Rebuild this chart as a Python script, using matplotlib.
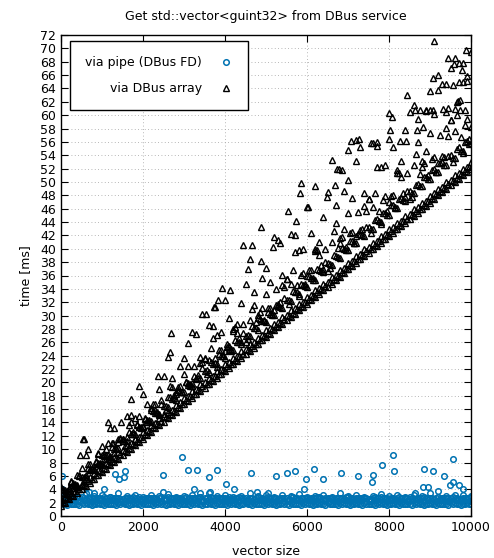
import matplotlib
matplotlib.use("Agg")
import matplotlib.pyplot as plt
import numpy as np

# vector sizes used by the dense rows
x_even = np.arange(0, 10001, 100)
x_odd = np.arange(50, 10000, 100)
x_200 = np.arange(0, 10001, 200)
x_200b = np.arange(100, 10000, 200)

# via DBus array [ms], lower edge and band above it
arr_a = [1.5, 2.0, 2.5, 3.0, 3.5, 4.0, 4.5, 5.0, 5.5, 6.1, 6.6, 7.1, 7.6, 8.1, 8.6, 9.1, 9.6, 10.1, 10.6, 11.1,
         11.6, 12.1, 12.6, 13.1, 13.6, 14.1, 14.6, 15.1, 15.6, 16.2, 16.7, 17.2, 17.7, 18.2, 18.7, 19.2, 19.7, 20.2, 20.7, 21.2,
         21.7, 22.2, 22.7, 23.2, 23.7, 24.2, 24.7, 25.2, 25.7, 26.3, 26.8, 27.3, 27.8, 28.3, 28.8, 29.3, 29.8, 30.3, 30.8, 31.3,
         31.8, 32.3, 32.8, 33.3, 33.8, 34.3, 34.8, 35.3, 35.8, 36.3, 36.9, 37.4, 37.9, 38.4, 38.9, 39.4, 39.9, 40.4, 40.9, 41.4,
         41.9, 42.4, 42.9, 43.4, 43.9, 44.4, 44.9, 45.4, 45.9, 46.4, 46.9, 47.5, 48.0, 48.5, 49.0, 49.5, 50.0, 50.5, 51.0, 51.5, 52.0]
arr_b = [2.1, 2.7, 3.1, 3.7, 4.1, 4.7, 5.2, 5.6, 6.2, 6.7, 7.2, 7.8, 8.2, 8.7, 9.3, 9.7, 10.2, 10.8, 11.2, 11.8,
         12.3, 12.7, 13.3, 13.8, 14.2, 14.8, 15.3, 15.7, 16.3, 16.8, 17.3, 17.9, 18.3, 18.8, 19.4, 19.8, 20.3, 20.9, 21.3, 21.9,
         22.4, 22.8, 23.4, 23.9, 24.3, 24.9, 25.4, 25.8, 26.4, 26.9, 27.4, 28.0, 28.4, 28.9, 29.5, 29.9, 30.4, 31.0, 31.4, 32.0,
         32.5, 32.9, 33.5, 34.0, 34.4, 35.0, 35.5, 35.9, 36.5, 37.0, 37.5, 38.1, 38.5, 39.0, 39.6, 40.0, 40.5, 41.1, 41.5, 42.1,
         42.6, 43.0, 43.6, 44.1, 44.5, 45.1, 45.6, 46.0, 46.6, 47.1, 47.6, 48.2, 48.6, 49.1, 49.7, 50.1, 50.6, 51.2, 51.6, 52.2]
arr_g = [2.4, 2.9, 3.5, 3.8, 4.5, 4.8, 5.5, 5.8, 6.5, 6.9, 7.6, 7.9, 8.6, 8.9, 9.6, 9.9, 10.6, 10.9, 11.6, 11.9,
         12.6, 12.9, 13.6, 13.9, 14.6, 14.9, 15.6, 15.9, 16.6, 17.0, 17.7, 18.0, 18.7, 19.0, 19.7, 20.0, 20.7, 21.0, 21.7, 22.0,
         22.7, 23.0, 23.7, 24.0, 24.7, 25.0, 25.7, 26.0, 26.7, 27.1, 27.8, 28.1, 28.8, 29.1, 29.8, 30.1, 30.8, 31.1, 31.8, 32.1,
         32.8, 33.1, 33.8, 34.1, 34.8, 35.1, 35.8, 36.1, 36.8, 37.1, 37.9, 38.2, 38.9, 39.2, 39.9, 40.2, 40.9, 41.2, 41.9, 42.2,
         42.9, 43.2, 43.9, 44.2, 44.9, 45.2, 45.9, 46.2, 46.9, 47.2, 47.9, 48.3, 49.0, 49.3, 50.0, 50.3, 51.0, 51.3, 52.0, 52.3, 53.0]
arr_c = [2.5, 3.4, 3.8, 4.9, 4.7, 5.8, 5.9, 6.9, 6.9, 8.0, 8.0, 9.1, 9.0, 10.0, 10.2, 11.2, 11.2, 12.3, 12.2, 13.3,
         13.3, 14.3, 14.2, 15.4, 15.3, 16.5, 16.3, 17.5, 17.4, 18.5, 18.5, 19.6, 19.5, 20.7, 20.6, 21.7, 21.6, 22.8, 22.7, 23.9,
         23.7, 24.9, 24.8, 26.0, 25.8, 27.0, 26.9, 28.1, 27.9, 29.2, 29.0, 30.3, 30.1, 31.4, 31.1, 32.4, 32.2, 33.5, 33.3, 34.6,
         34.3, 35.7, 35.4, 36.8, 36.5, 37.8, 37.6, 38.9, 38.6, 40.0, 39.8, 41.1, 40.8, 42.2, 41.9, 43.2, 42.9, 44.4, 44.0, 45.4,
         45.1, 46.5, 46.1, 47.6, 47.2, 48.7, 48.3, 49.7, 49.4, 50.8, 50.4, 51.9, 51.5, 53.0, 52.6, 54.1, 53.6, 55.2, 54.7, 56.2, 55.8]
arr_h = [4.0, 3.8, 5.1, 4.8, 6.2, 5.9, 7.2, 7.0, 8.3, 8.0, 9.3, 9.1, 10.4, 10.1, 11.5, 11.2, 12.5, 12.3, 13.6, 13.3,
         14.6, 14.4, 15.7, 15.4, 16.8, 16.5, 17.8, 17.6, 18.9, 18.6, 20.0, 19.7, 21.0, 20.7, 22.1, 21.8, 23.1, 22.9, 24.2, 23.9,
         25.3, 25.0, 26.3, 26.0, 27.4, 27.1, 28.4, 28.2, 29.5, 29.2, 30.6, 30.3, 31.6, 31.3, 32.7, 32.4, 33.7, 33.5, 34.8, 34.5,
         35.9, 35.6, 36.9, 36.6, 38.0, 37.7, 39.0, 38.8, 40.1, 39.8, 41.2, 40.9, 42.2, 42.0, 43.3, 43.0, 44.3, 44.1, 45.4, 45.1,
         46.5, 46.2, 47.5, 47.3, 48.6, 48.3, 49.6, 49.4, 50.7, 50.4, 51.8, 51.5, 52.8, 52.6, 53.9, 53.6, 54.9, 54.7, 56.0, 55.7]
arr_d = [3.4, 3.3, 5.3, 4.7, 6.0, 5.2, 7.8, 7.1, 8.1, 7.8, 9.0, 8.6, 11.0, 10.2, 11.7, 10.5, 13.6, 12.6, 13.7, 13.2,
         14.5, 14.0, 16.8, 15.6, 17.3, 15.8, 19.4, 18.1, 19.3, 18.6, 20.1, 19.4, 22.5, 21.1, 23.0, 21.2, 25.2, 23.6, 24.9, 24.0,
         25.7, 24.7, 28.3, 26.6, 28.7, 26.5, 31.0, 29.1, 30.5, 29.4, 31.2, 30.1, 34.0, 32.0, 34.3, 31.8, 36.8, 34.6, 36.1, 34.8,
         36.8, 35.4, 39.8, 37.5, 40.0, 37.1, 42.6, 40.1, 41.7, 40.2, 42.3, 40.8, 45.5, 42.9, 45.6, 42.4, 48.4, 45.6, 47.3, 45.6,
         47.9, 46.1, 51.3, 48.4, 51.3, 47.7, 54.2, 51.2, 52.9, 51.0, 53.4, 51.5, 57.1, 53.8, 56.9, 53.0, 60.0, 56.7, 58.5, 56.4]
arr_e = [3.9, 4.2, 7.2, 7.1, 9.3, 8.6, 13.2, 11.6, 15.1, 15.0, 16.7, 15.8, 21.0, 19.3, 22.4, 19.9, 27.3, 23.6, 28.5, 27.5,
         29.6, 27.4, 34.7, 31.6, 35.6, 31.2, 41.3, 35.5, 42.0, 40.0, 42.4, 39.1, 48.5, 43.8, 48.7, 42.5, 55.3, 47.4, 55.4, 52.5,
         55.2, 50.7, 60.5, 56.0, 60.8, 53.8, 64.6, 59.3, 67.8, 65.1]
arr_i = [2.8, 4.6, 4.5, 7.8, 7.8, 10.0, 9.4, 11.6, 14.0, 13.3, 14.1, 16.7, 15.2, 20.7, 19.5, 22.5, 20.5, 23.5, 26.7, 24.8,
         25.4, 28.8, 26.0, 33.6, 31.2, 35.1, 31.7, 35.5, 39.5, 36.4, 36.8, 41.0, 36.7, 46.6, 43.0, 47.6, 42.8, 47.4, 52.2, 47.9,
         48.1, 53.1, 47.4, 59.5, 54.6, 60.1, 53.9, 59.3, 64.9, 59.4]
arr_f = [2.4, 4.2, 4.3, 6.2, 7.0, 9.2, 8.9, 11.1, 11.8, 11.6, 13.5, 16.1, 15.1, 17.8, 18.3, 21.3, 19.9, 22.9, 23.3, 22.3,
         24.7, 28.0, 26.0, 29.4, 29.6, 33.3, 30.9, 34.6, 34.8, 33.0, 35.9, 39.9, 36.9, 41.0, 40.9, 45.4, 41.9, 46.4, 46.2, 43.7,
         47.0, 51.8, 47.7, 52.6, 52.2, 57.4, 52.9, 58.1, 57.7, 54.4, 58.2]
arr_k = [4.3, 4.0, 6.1, 9.2, 7.1, 10.5, 13.2, 11.6, 15.0, 14.6, 18.3, 15.8, 19.0, 23.8, 18.6, 23.7, 27.5, 23.8, 28.6, 27.1,
         32.3, 27.7, 31.9, 38.5, 30.1, 37.1, 41.8, 36.1, 42.2, 39.8, 46.2, 39.6, 44.8, 53.3, 41.6, 50.3, 56.3, 48.3, 55.9, 52.3,
         60.3, 51.4, 57.8, 61.5, 53.1, 63.6, 66.0, 60.5, 68.5, 64.9, 69.5]
# single scattered runs (size, ms)
arr_out_x = [1139, 1902, 1700, 2658, 2683, 3432, 3530, 3732, 3830, 3098, 2366, 1463, 6732, 5846, 6195, 5829, 6683,
             6480, 5545, 6017, 4886, 4447, 4658, 5179, 5342, 5740, 4561, 4878, 3920, 4122, 3749, 9675, 8634, 8750,
             8900, 9000, 9073, 9317, 9450, 9600, 9740, 9854, 8065, 7065, 7276, 7008, 7195, 7561, 7700, 6788, 6846,
             8000, 8268, 8415, 8024, 8675, 8837, 9106, 9870, 9431, 9585, 9812, 9512, 9788, 9081, 9203, 9383, 9568,
             9895, 8447, 9651, 9732, 561, 463, 666, 1150, 1270, 895, 544]
arr_out_y = [14.1, 19.4, 17.5, 24.5, 27.4, 30.3, 30.3, 31.3, 32.3, 25.9, 21.0, 14.1, 51.9, 49.9, 49.4, 48.4, 49.6,
             47.8, 45.7, 46.2, 43.2, 40.5, 40.6, 40.2, 40.8, 44.1, 37.0, 38.1, 34.2, 33.9, 31.3, 62.1, 60.7, 60.8,
             60.6, 60.7, 60.8, 60.9, 61.0, 60.9, 60.8, 60.7, 59.8, 56.2, 56.5, 54.8, 53.1, 55.9, 56.0, 52.0, 51.8,
             56.4, 56.2, 56.2, 57.8, 57.8, 58.3, 71.1, 69.7, 68.6, 67.7, 67.8, 67.0, 66.8, 65.5, 63.8, 64.6, 64.5,
             65.8, 63.0, 62.0, 62.3, 11.5, 9.1, 10.0, 10.9, 10.9, 9.5, 11.5]

# via pipe (DBus FD) [ms]
pipe_a = [1.9, 1.8, 1.9, 1.85, 1.8, 1.9, 1.95, 1.8, 1.85, 1.9, 1.8, 1.9, 1.85, 1.8, 1.9, 1.95, 1.8, 1.85, 1.9, 1.8,
          1.9, 1.85, 1.8, 1.9, 1.95, 1.8, 1.85, 1.9, 1.8, 1.9, 1.85, 1.8, 1.9, 1.95, 1.8, 1.85, 1.9, 1.8, 1.9, 1.85,
          1.8, 1.9, 1.95, 1.8, 1.85, 1.9, 1.8, 1.9, 1.85, 1.8, 1.9, 1.95, 1.8, 1.85, 1.9, 1.8, 1.9, 1.85, 1.8, 1.9,
          1.95, 1.8, 1.85, 1.9, 1.8, 1.9, 1.85, 1.8, 1.9, 1.95, 1.8, 1.85, 1.9, 1.8, 1.9, 1.85, 1.8, 1.9, 1.95, 1.8,
          1.85, 1.9, 1.8, 1.9, 1.85, 1.8, 1.9, 1.95, 1.8, 1.85, 1.9, 1.8, 1.9, 1.85, 1.8, 1.9, 1.95, 1.8, 1.85, 1.9, 1.8]
pipe_e = [1.75, 1.7, 1.8, 1.75, 1.7, 1.8, 1.75, 1.7, 1.8, 1.75, 1.7, 1.8, 1.75, 1.7, 1.8, 1.75, 1.7, 1.8, 1.75, 1.7,
          1.8, 1.75, 1.7, 1.8, 1.75, 1.7, 1.8, 1.75, 1.7, 1.8, 1.75, 1.7, 1.8, 1.75, 1.7, 1.8, 1.75, 1.7, 1.8, 1.75,
          1.7, 1.8, 1.75, 1.7, 1.8, 1.75, 1.7, 1.8, 1.75, 1.7, 1.8, 1.75, 1.7, 1.8, 1.75, 1.7, 1.8, 1.75, 1.7, 1.8,
          1.75, 1.7, 1.8, 1.75, 1.7, 1.8, 1.75, 1.7, 1.8, 1.75, 1.7, 1.8, 1.75, 1.7, 1.8, 1.75, 1.7, 1.8, 1.75, 1.7,
          1.8, 1.75, 1.7, 1.8, 1.75, 1.7, 1.8, 1.75, 1.7, 1.8, 1.75, 1.7, 1.8, 1.75, 1.7, 1.8, 1.75, 1.7, 1.8, 1.75]
pipe_b = [2.3, 2.2, 2.35, 2.25, 2.3, 2.4, 2.2, 2.3, 2.25, 2.35, 2.3, 2.2, 2.4, 2.3, 2.25, 2.3, 2.35, 2.2, 2.3, 2.25,
          2.3, 2.4, 2.2, 2.3, 2.25, 2.35, 2.3, 2.2, 2.4, 2.3, 2.25, 2.3, 2.35, 2.2, 2.3, 2.25, 2.3, 2.4, 2.2, 2.3,
          2.25, 2.35, 2.3, 2.2, 2.4, 2.3, 2.25, 2.3, 2.35, 2.2, 2.3, 2.25, 2.3, 2.4, 2.2, 2.3, 2.25, 2.35, 2.3, 2.2,
          2.4, 2.3, 2.25, 2.3, 2.35, 2.2, 2.3, 2.25, 2.3, 2.4, 2.2, 2.3, 2.25, 2.35, 2.3, 2.2, 2.4, 2.3, 2.25, 2.3,
          2.35, 2.2, 2.3, 2.25, 2.3, 2.4, 2.2, 2.3, 2.25, 2.35, 2.3, 2.2, 2.4, 2.3, 2.25, 2.3, 2.35, 2.2, 2.3, 2.25]
pipe_c = [2.7, 2.6, 2.75, 2.65, 2.7, 2.8, 2.6, 2.7, 2.65, 2.75, 2.6, 2.7, 2.8, 2.65, 2.7, 2.6, 2.75, 2.7, 2.65, 2.8,
          2.6, 2.7, 2.65, 2.75, 2.7, 2.6, 2.8, 2.7, 2.65, 2.7, 2.75, 2.6, 2.7, 2.65, 2.8, 2.7, 2.6, 2.75, 2.7, 2.65,
          2.7, 2.8, 2.6, 2.7, 2.65, 2.75, 2.7, 2.6, 2.8, 2.7, 2.65, 2.7, 2.75, 2.6, 2.7, 2.65, 2.8, 2.7, 2.6, 2.75,
          2.7, 2.65, 2.7, 2.8, 2.6, 2.7, 2.65, 2.75, 2.7, 2.6, 2.8, 2.7, 2.65, 2.7, 2.75, 2.6, 2.7, 2.65, 2.8, 2.7,
          2.6, 2.75, 2.7, 2.65, 2.7, 2.8, 2.6, 2.7, 2.65, 2.75, 2.7, 2.6, 2.8, 2.7, 2.65, 2.7, 2.75, 2.6, 2.7, 2.65, 2.8]
pipe_f = [2.65, 2.75, 2.7, 2.6, 2.8, 2.7, 2.65, 2.75, 2.6, 2.7, 2.8, 2.65, 2.7, 2.75, 2.6, 2.7, 2.65, 2.8, 2.7, 2.6,
          2.75, 2.7, 2.65, 2.6, 2.8, 2.7, 2.75, 2.65, 2.7, 2.6, 2.8, 2.7, 2.65, 2.75, 2.6, 2.7, 2.8, 2.65, 2.7, 2.75,
          2.6, 2.7, 2.65, 2.8, 2.7, 2.6, 2.75, 2.7, 2.65, 2.6, 2.8, 2.7, 2.75, 2.65, 2.7, 2.6, 2.8, 2.7, 2.65, 2.75,
          2.6, 2.7, 2.8, 2.65, 2.7, 2.75, 2.6, 2.7, 2.65, 2.8, 2.7, 2.6, 2.75, 2.7, 2.65, 2.6, 2.8, 2.7, 2.75, 2.65,
          2.7, 2.6, 2.8, 2.7, 2.65, 2.75, 2.6, 2.7, 2.8, 2.65, 2.7, 2.75, 2.6, 2.7, 2.65, 2.8, 2.7, 2.6, 2.75, 2.7]
pipe_d = [3.0, 3.2, 2.9, 3.4, 3.0, 3.1, 2.9, 3.5, 3.0, 3.2, 2.9, 3.1, 3.0, 3.3, 2.9, 3.0, 3.2, 2.9, 3.4, 3.0,
          3.1, 2.9, 3.0, 3.5, 3.0, 3.2, 2.9, 3.1, 3.0, 3.3, 2.9, 3.0, 3.2, 2.9, 3.4, 3.0, 3.1, 2.9, 3.0, 3.3,
          3.0, 3.2, 2.9, 3.1, 3.0, 3.4, 2.9, 3.0, 3.2, 3.1, 3.0]
pipe_out_x = [32, 32, 1317, 1415, 1561, 1545, 1041, 2496, 2943, 3089, 3325, 3618, 3797, 4016, 4227, 4626, 5236,
              5504, 5700, 5976, 5935, 6171, 6398, 6837, 7236, 7593, 7602, 7821, 8105, 8122, 8862, 9081, 9349,
              9553, 9488, 9569, 9715, 9797, 8838, 8960, 8634, 9203, 3252, 3640, 680, 2480, 3400, 4770, 5060, 810]
pipe_out_y = [6.0, 4.1, 6.3, 5.5, 6.7, 5.9, 4.1, 6.1, 8.8, 6.9, 6.9, 5.8, 6.9, 4.8, 4.0, 6.4, 6.0,
              6.5, 6.8, 5.5, 4.0, 7.0, 5.5, 6.5, 6.0, 5.1, 6.1, 7.6, 9.1, 6.7, 7.0, 6.8, 6.0,
              8.6, 4.6, 5.1, 4.6, 4.0, 4.3, 4.3, 3.4, 3.8, 4.0, 3.6, 3.6, 3.6, 3.5, 3.6, 3.4, 3.5]

blue = '#0072b2'
fig = plt.figure(figsize=(4.94, 5.58), dpi=100)
ax = fig.add_axes([61/494, 42/558, 410/494, 481/558])

cstyle = dict(linestyle='none', marker='o', markersize=4.0, markerfacecolor='none',
              markeredgecolor=blue, markeredgewidth=1.1)
tstyle = dict(linestyle='none', marker='^', markersize=4.0, markerfacecolor='none',
              markeredgecolor='black', markeredgewidth=1.0)

ax.plot(x_even, pipe_a, label='via pipe (DBus FD)', **cstyle)
ax.plot(x_odd, pipe_e, **cstyle)
ax.plot(x_odd, pipe_b, **cstyle)
ax.plot(x_even, pipe_c, **cstyle)
ax.plot(x_odd, pipe_f, **cstyle)
ax.plot(x_200, pipe_d, **cstyle)
ax.plot(pipe_out_x, pipe_out_y, **cstyle)

ax.plot(x_even, arr_a, label='via DBus array', **tstyle)
ax.plot(x_odd, arr_b, **tstyle)
ax.plot(x_even, arr_g, **tstyle)
ax.plot(x_even, arr_c, **tstyle)
ax.plot(x_odd, arr_h, **tstyle)
ax.plot(x_odd, arr_d, **tstyle)
ax.plot(x_200b, arr_e, **tstyle)
ax.plot(x_200b, arr_i, **tstyle)
ax.plot(x_200, arr_f, **tstyle)
ax.plot(x_200, arr_k, **tstyle)
ax.plot(arr_out_x, arr_out_y, **tstyle)

ax.set_xlim(0, 10000)
ax.set_ylim(0, 72)
ax.set_xticks(np.arange(0, 10001, 2000))
ax.set_yticks(np.arange(0, 73, 2))
ax.tick_params(direction='in', length=5, width=0.8, top=True, right=True, labelsize=9)
ax.grid(True, linestyle=(0, (1, 3)), color='#a0a0a0', linewidth=0.6)
for s in ax.spines.values():
    s.set_linewidth(1.0)

ax.set_title('Get std::vector<guint32> from DBus service', fontsize=9, pad=11)
ax.set_xlabel('vector size', fontsize=9, labelpad=8)
ax.set_ylabel('time [ms]', fontsize=9, labelpad=6)

leg = ax.legend(loc='upper left', bbox_to_anchor=(0.022, 0.9875), borderaxespad=0,
                markerfirst=False, fancybox=False, framealpha=1, edgecolor='black',
                fontsize=9, borderpad=1.2, labelspacing=1.05, handlelength=1.2,
                handletextpad=1.3, markerscale=1.0)
leg.get_frame().set_linewidth(1.0)
for t in leg.get_texts():
    t.set_ha('right')
leg.set_zorder(5)

fig.savefig('out.png', dpi=100)
